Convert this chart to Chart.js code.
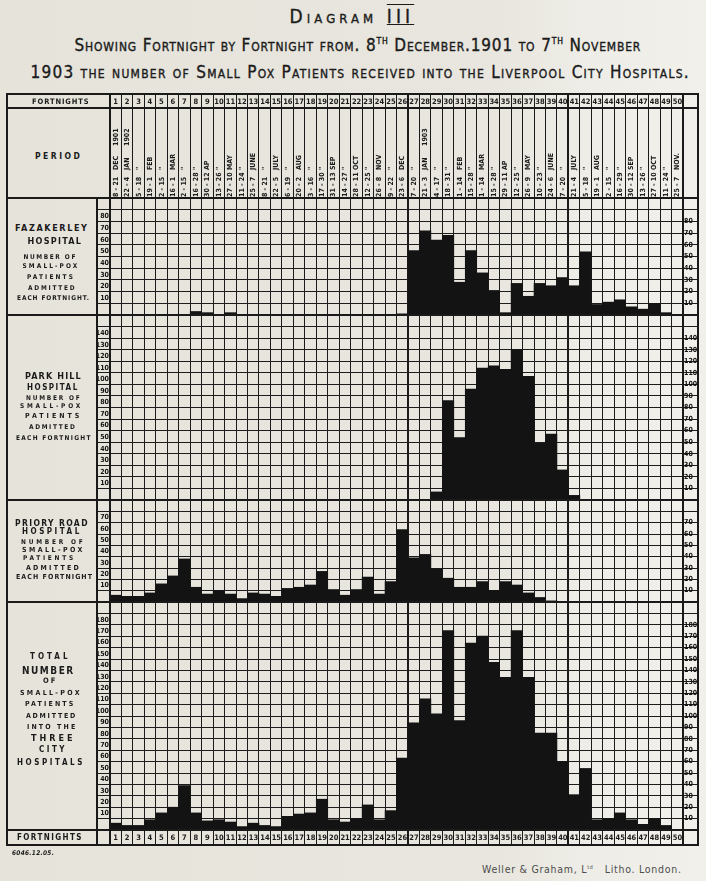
<!DOCTYPE html>
<html>
<head>
<meta charset="utf-8">
<title>Diagram III - Small-pox patients, Liverpool City Hospitals</title>
<script src="https://cdn.jsdelivr.net/npm/chart.js@4.4.1/dist/chart.umd.min.js"></script>
<style>
  html, body { margin: 0; padding: 0; }
  body { background: #e9e7df; }
  #page {
    position: relative; width: 706px; height: 881px; overflow: hidden;
    background: linear-gradient(90deg, #e5e3da 0%, #e8e6de 70%, #eeede7 84%, #f1f0eb 100%);
    font-family: "DejaVu Sans Condensed", "Liberation Sans Narrow", "DejaVu Sans", sans-serif;
    color: #1b1b1b;
  }
  .t { position: absolute; white-space: nowrap; line-height: 1; }
  .t sup { font-size: 0.5em; vertical-align: 0.8em; line-height: 0; }
  .ln { position: absolute; background: #1a1a1a; }
  canvas { position: absolute; }
</style>
</head>
<body>
<div id="page"></div>
<script>
// fortnights, 8 Dec 1901 - 7 Nov 1903
const fortnights = ['1','2','3','4','5','6','7','8','9','10','11','12','13','14','15','16','17','18','19','20',
  '21','22','23','24','25','26','27','28','29','30','31','32','33','34','35','36','37','38','39','40',
  '41','42','43','44','45','46','47','48','49','50'];

const periodDates = ['8 - 21','22 - 4','5 - 18','19 - 1','2 - 15','16 - 1','2 - 15','16 - 28','30 - 12','13 - 26',
  '27 - 10','11 - 24','25 - 7','8 - 21','22 - 5','6 - 19','20 - 2','3 - 16','17 - 30','31 - 13',
  '14 - 27','28 - 11','12 - 25','26 - 8','9 - 22','23 - 6','7 - 20','21 - 3','4 - 17','18 - 31',
  '1 - 14','15 - 28','1 - 14','15 - 28','29 - 11','12 - 25','26 - 9','10 - 23','24 - 6','7 - 20',
  '21 - 4','5 - 18','19 - 1','2 - 15','16 - 29','30 - 12','13 - 26','27 - 10','11 - 24','25 - 7'];
const periodMonths = ['DEC','JAN','"','FEB','"','MAR','"','"','AP','"',
  'MAY','"','JUNE','"','JULY','"','AUG','"','"','SEP',
  '"','OCT','"','NOV','"','DEC','"','JAN','"','"',
  'FEB','"','MAR','"','AP','"','MAY','"','JUNE','"',
  'JULY','"','AUG','"','"','SEP','"','OCT','"','NOV.'];
const periodYears = ['1901','1902','','','','','','','','','','','','','','','','','','','','','','','','','',
  '1903','','','','','','','','','','','','','','','','','','','','',''];

// patients admitted each fortnight
const fazakerley = [0,0,0,0,0,0,0,3,2,0, 2,0,0,0,0,0,0,0,0,0, 0,0,0,0,0,1,55,72,64,68,
  28,55,36,21,2,27,16,27,25,32, 25,54,9,11,13,7,5,10,2,0];
const parkHill = [0,0,0,0,0,0,0,0,0,0, 0,0,0,0,0,0,0,0,0,0, 0,0,0,0,0,0,0,0,7,86,
  54,96,114,116,113,130,107,49,57,26, 4,0,0,0,0,0,0,0,0,0];
const prioryRoad = [6,5,5,8,16,23,38,13,7,10, 7,3,8,7,5,12,13,15,27,11, 6,11,22,7,18,64,39,42,29,21,
  13,13,18,10,18,15,8,4,1,0, 0,0,0,0,0,0,0,0,0,0];
const totalAll = [6,4,4,9,15,20,39,15,8,9, 7,3,6,4,3,12,14,15,27,9, 7,10,22,9,17,63,94,115,102,175,
  96,164,170,147,134,175,134,85,85,60, 31,54,9,10,15,9,5,10,4,0];

// printed tick labels of each panel
const fazTicks = [10,20,30,40,50,60,70,80];
const parkTicks = [10,20,30,40,50,60,70,80,90,100,110,120,130,140];
const prioryTicks = [10,20,30,40,50,60,70];
const totalTicks = [10,20,30,40,50,60,70,80,90,100,110,120,130,140,150,160,170,180];

const INK = '#131313';
const GRID = '#1c1c1c';
const X0 = 7, XL = 97, XG = 110, XR = 683, X1 = 698;
const CW = (XR - XG) / fortnights.length;
const Y_TOP = 94, Y_HEAD = 108, Y_PERIOD = 198, Y_FOOT = 830, Y_BOTTOM = 845;
const YEAR_BREAKS = [26, 40];

const page = document.getElementById('page');

const panels = [
  { data: fazakerley, top: 198, bottom: 315, max: 100, ticks: fazTicks },
  { data: parkHill, top: 315, bottom: 500, max: 160, ticks: parkTicks },
  { data: prioryRoad, top: 500, bottom: 602, max: 90, ticks: prioryTicks },
  { data: totalAll, top: 602, bottom: 830, max: 200, ticks: totalTicks }
];

const tickFont = { family: '"DejaVu Sans Condensed", "DejaVu Sans", sans-serif', size: 7, weight: 'bold' };

panels.forEach(p => {
  const c = document.createElement('canvas');
  c.width = X1 - XL;
  c.height = p.bottom - p.top;
  c.style.left = XL + 'px';
  c.style.top = p.top + 'px';
  page.appendChild(c);

  const showTick = v => (p.ticks.includes(v) ? String(v) : '');
  const noPad = s => { s.paddingTop = 0; s.paddingBottom = 0; };

  new Chart(c, {
    type: 'bar',
    data: {
      labels: fortnights,
      datasets: [{
        data: p.data,
        backgroundColor: INK,
        borderWidth: 0,
        categoryPercentage: 1,
        barPercentage: 1
      }]
    },
    options: {
      responsive: false,
      animation: false,
      devicePixelRatio: 1,
      layout: { padding: 0 },
      plugins: { legend: { display: false }, tooltip: { enabled: false } },
      scales: {
        x: {
          ticks: { display: false },
          grid: {
            color: GRID,
            lineWidth: ctx => (YEAR_BREAKS.includes(ctx.index) ? 2 : 1),
            drawTicks: false
          },
          border: { color: GRID },
          afterFit: s => { s.height = 0; }
        },
        y: {
          type: 'linear',
          position: 'left',
          min: 0,
          max: p.max,
          afterFit: s => { s.width = XG - XL; noPad(s); },
          ticks: {
            stepSize: 10, autoSkip: false, crossAlign: 'near', padding: -12,
            labelOffset: -5, font: tickFont, color: INK, callback: showTick
          },
          grid: { color: GRID, drawTicks: true, tickLength: XG - XL },
          border: { color: GRID }
        },
        y2: {
          type: 'linear',
          position: 'right',
          min: 0,
          max: p.max,
          afterFit: s => { s.width = X1 - XR; noPad(s); },
          ticks: {
            stepSize: 10, autoSkip: false, crossAlign: 'near', padding: -(X1 - XR) + 1,
            font: tickFont, color: INK, callback: showTick
          },
          grid: { color: GRID, drawOnChartArea: false, drawTicks: true, tickLength: X1 - XR },
          border: { color: GRID }
        }
      }
    }
  });
});

// table frame
function line(x, y, w, h) {
  const d = document.createElement('div');
  d.className = 'ln';
  d.style.cssText = `left:${x}px;top:${y}px;width:${w}px;height:${h}px;`;
  page.appendChild(d);
}
const hline = (x1, x2, y, t) => line(x1, y - t / 2, x2 - x1, t);
const vline = (x, y1, y2, t) => line(x - t / 2, y1, t, y2 - y1);

hline(X0 - 1, X1 + 1, Y_TOP, 2);
hline(X0 - 1, X1 + 1, Y_BOTTOM, 2);
vline(X0, Y_TOP, Y_BOTTOM, 2);
vline(X1, Y_TOP, Y_BOTTOM, 2);
hline(X0, X1, Y_HEAD, 1.5);
[Y_PERIOD, 315, 500, 602, Y_FOOT].forEach(y => hline(X0, X1, y, 2));
vline(XG, Y_TOP, Y_BOTTOM, 1.5);
vline(XR, Y_TOP, Y_BOTTOM, 1.5);
vline(XL, Y_PERIOD, Y_BOTTOM, 1.5);
for (let k = 1; k < fortnights.length; k++) {
  const x = XG + k * CW;
  const t = YEAR_BREAKS.includes(k) ? 2 : 1;
  vline(x, Y_TOP, Y_PERIOD, t);
  vline(x, Y_FOOT, Y_BOTTOM, t);
}

// text helpers
function put(html, cx, cy, size, opts = {}) {
  const s = document.createElement('div');
  s.className = 't';
  s.style.fontSize = size + 'px';
  s.style.fontWeight = opts.weight || 'bold';
  if (opts.style) s.style.cssText += opts.style;
  s.innerHTML = html;
  page.appendChild(s);
  const w = s.offsetWidth;
  if (opts.w) {
    if (w < opts.w) {
      const n = Math.max(1, s.textContent.length);
      s.style.letterSpacing = ((opts.w - w) / n).toFixed(2) + 'px';
    } else if (w > opts.w) {
      s.style.transform = `scaleX(${(opts.w / w).toFixed(3)})`;
    }
  }
  s.style.left = (cx - s.offsetWidth / 2) + 'px';
  s.style.top = (cy - s.offsetHeight / 2) + 'px';
  return s;
}
function vtext(str, cx, yb, size) {
  const s = document.createElement('div');
  s.className = 't';
  s.style.cssText += `font-size:${size}px;font-weight:bold;left:${cx}px;top:${yb}px;` +
    'transform-origin:0 0;transform:rotate(-90deg) translateY(-50%);';
  s.textContent = str;
  page.appendChild(s);
}

// title
const titleStyle = 'font-variant:small-caps;-webkit-text-stroke:0.35px #1b1b1b;';
put('Diagram <span style="font-variant:normal;text-decoration:underline overline;">III</span>', 352, 16, 19,
  { w: 125, weight: 'normal', style: titleStyle });
put('Showing Fortnight by Fortnight from. 8<sup>TH</sup> December.1901 to 7<sup>TH</sup> November', 358, 45, 17,
  { w: 567, weight: 'normal', style: titleStyle });
put('1903 the number of Small Pox Patients received into the Liverpool City Hospitals.', 360, 72, 17,
  { w: 660, weight: 'normal', style: titleStyle });

// header rows
put('FORTNIGHTS', 61, 101.5, 7.5, { w: 58 });
put('PERIOD', 58.5, 156, 8.5, { w: 47 });
put('FORTNIGHTS', 50, 838, 8, { w: 66 });
fortnights.forEach((f, i) => {
  const cx = XG + (i + 0.5) * CW;
  put(f, cx, 101.5, 7.5);
  put(f, cx, 838, 7.5);
  vtext(periodDates[i], cx, 197, 7);
  vtext(periodMonths[i], cx, 170, 7);
  if (periodYears[i]) vtext(periodYears[i], cx, 146, 7);
});

// panel captions
const captions = [
  ['FAZAKERLEY', 52, 228, 9, 74], ['HOSPITAL', 55, 241, 9, 55], ['NUMBER OF', 50, 257, 6.5, 53],
  ['SMALL-POX', 51, 266, 6.5, 57], ['PATIENTS', 51, 277, 6.5, 48], ['ADMITTED', 52, 288, 6.5, 48],
  ['EACH FORTNIGHT.', 53.5, 298, 6.5, 73],
  ['PARK HILL', 53.5, 376, 9, 57], ['HOSPITAL', 53, 388, 8, 52], ['NUMBER OF', 53.5, 398, 6.5, 55],
  ['SMALL-POX', 51.5, 406, 6.5, 63], ['PATIENTS', 53.5, 416, 7, 57], ['ADMITTED', 52.5, 427, 6.5, 47],
  ['EACH FORTNIGHT', 54, 438, 6.5, 76],
  ['PRIORY ROAD', 52, 523, 8.5, 74], ['HOSPITAL', 52, 532, 8, 60], ['NUMBER OF', 53, 542, 6.5, 64],
  ['SMALL-POX', 53.5, 550, 7, 63], ['PATIENTS', 49.5, 558, 6.5, 53], ['ADMITTED', 53.5, 568, 7, 55],
  ['EACH FORTNIGHT', 54.5, 577, 7, 77],
  ['TOTAL', 50, 657, 8, 40], ['NUMBER', 48.5, 671, 10, 53], ['OF', 50, 681, 7.5, 14],
  ['SMALL-POX', 51, 693, 7, 62], ['PATIENTS', 50, 704, 7, 50], ['ADMITTED', 51.5, 716, 7, 51],
  ['INTO THE', 52, 727, 7, 50], ['THREE', 53.5, 738, 9, 45], ['CITY', 53, 750, 8, 28],
  ['HOSPITALS', 51, 763, 8, 68]
];
captions.forEach(([txt, cx, cy, size, w]) => put(txt, cx, cy, size, { w }));

// imprint
put('6046.12.05.', 33, 853, 6.5, { w: 42, style: 'font-style:italic;' });
put('Weller &amp; Graham, L<sup>td</sup>&nbsp;&nbsp; Litho. London.', 582, 869, 10.5,
  { w: 200, weight: 'normal', style: 'color:#4d4d4d;' });
</script>
</body>
</html>
